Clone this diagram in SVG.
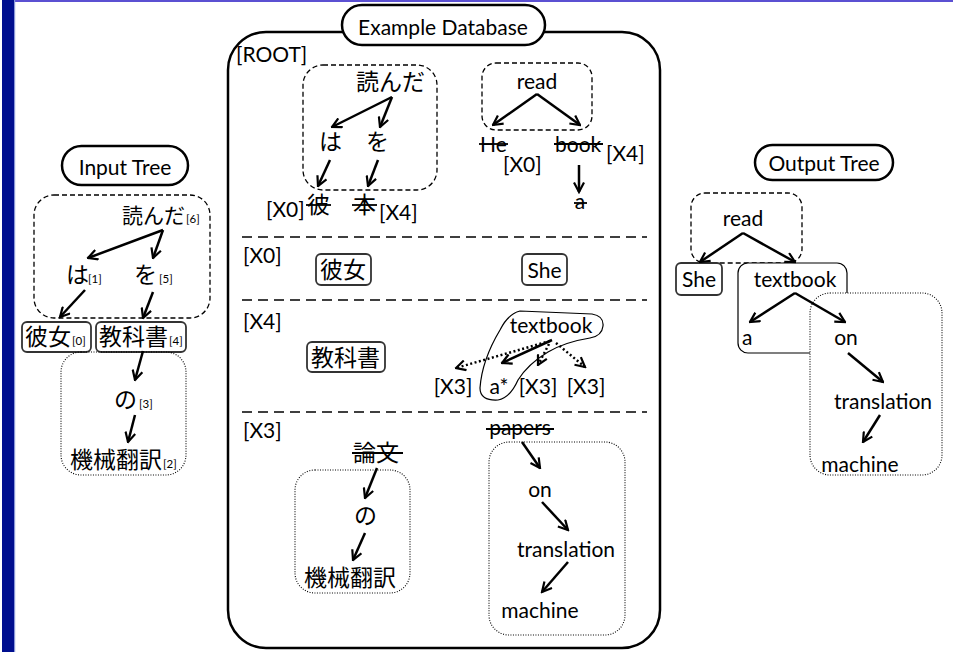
<svg xmlns="http://www.w3.org/2000/svg" width="953" height="652" viewBox="0 0 953 652">
  <style>
    .lat { font-family: Lato, "Liberation Sans", sans-serif; font-size: 21px; fill: #000; }
    .jp { font-family: "Noto Sans CJK JP", sans-serif; font-size: 23px; fill: #000; }
    .sub { font-family: Lato, "Liberation Sans", sans-serif; font-size: 11.5px; fill: #000; }
    .pill { fill: #fff; stroke: #000; stroke-width: 2.5; }
    .frame { fill: none; stroke: #000; stroke-width: 2.5; }
    .dash { fill: none; stroke: #000; stroke-width: 1.3; stroke-dasharray: 5 3; }
    .dot { fill: #fff; stroke: #000; stroke-width: 1.1; stroke-dasharray: 1 1.5; }
    .node { fill: #fff; stroke: #333; stroke-width: 1.8; }
    .thin { fill: none; stroke: #000; stroke-width: 1.2; }
    .sep { fill: none; stroke: #000; stroke-width: 1.5; stroke-dasharray: 10 6; }
    .strike { stroke: #000; stroke-width: 1.8; }
    .edge { fill: none; stroke: #000; stroke-width: 2.5; marker-end: url(#ah); }
    .edged { fill: none; stroke: #000; stroke-width: 2.5; stroke-dasharray: 2 2.5; marker-end: url(#ah); }
  </style>
  <defs>
    <marker id="ah" viewBox="0 0 12 12" refX="10.5" refY="6" markerWidth="12" markerHeight="12" orient="auto" markerUnits="userSpaceOnUse">
      <path d="M1,1 L10.5,6 L1,11" fill="none" stroke="#000" stroke-width="2.2"/>
    </marker>
  </defs>

  <!-- slide background and frame bars -->
  <rect x="0" y="0" width="953" height="652" fill="#fff"/>
  <rect x="8" y="0" width="945" height="2" fill="#5b50d2"/>
  <rect x="2" y="0" width="12" height="652" fill="#000f8f"/>
  <rect x="14" y="0" width="1.2" height="652" fill="#8896d8"/>

  <!-- ===== Input tree ===== -->
  <g id="input-title">
    <rect class="pill" x="62" y="146" width="126" height="39" rx="19.5"/>
    <text class="lat" x="125" y="175" text-anchor="middle">Input Tree</text>
  </g>
  <g id="input-frag-top">
    <rect class="dash" x="34" y="195" width="176" height="123" rx="20"/>
  </g>
  <g id="input-yonda">
    <text class="jp" x="122" y="223" style="font-size:21px">読んだ</text>
    <text class="sub" x="186" y="223">[6]</text>
  </g>
  <g id="input-ha">
    <text class="jp" x="66" y="283">は</text>
    <text class="sub" x="88" y="283">[1]</text>
  </g>
  <g id="input-wo">
    <text class="jp" x="134" y="283">を</text>
    <text class="sub" x="159" y="283">[5]</text>
  </g>
  <g id="input-kanojo">
    <rect class="node" x="22" y="322" width="69" height="30" rx="5"/>
    <text class="jp" x="25" y="345">彼女</text>
    <text class="sub" x="72" y="345">[0]</text>
  </g>
  <g id="input-kyoukasho">
    <rect class="node" x="96" y="322" width="90" height="30" rx="5"/>
    <text class="jp" x="99" y="345">教科書</text>
    <text class="sub" x="169" y="345">[4]</text>
  </g>
  <g id="input-frag-bottom">
    <rect class="dot" x="61" y="352" width="125" height="123" rx="20" style="fill:none"/>
  </g>
  <g id="input-no">
    <text class="jp" x="114" y="408">の</text>
    <text class="sub" x="139" y="408">[3]</text>
  </g>
  <g id="input-kikaihonyaku">
    <text class="jp" x="70" y="468">機械翻訳</text>
    <text class="sub" x="163" y="468">[2]</text>
  </g>

  <!-- ===== Example database ===== -->
  <g id="db-frame">
    <rect class="frame" x="228" y="32" width="432" height="616" rx="38"/>
  </g>
  <g id="db-title">
    <rect class="pill" x="342" y="5" width="203" height="40" rx="20"/>
    <text class="lat" x="443" y="35" text-anchor="middle">Example Database</text>
  </g>

  <!-- ROOT section -->
  <g id="db-root">
    <text class="lat" x="236" y="62">[ROOT]</text>
    <rect class="dash" x="303" y="65" width="134" height="125" rx="20"/>
    <text class="jp" x="356" y="90">読んだ</text>
    <text class="jp" x="319" y="150">は</text>
    <text class="jp" x="366" y="150">を</text>
    <text class="jp" x="307" y="213">彼</text>
    <line class="strike" x1="306" y1="205" x2="331" y2="205"/>
    <text class="jp" x="353" y="213">本</text>
    <line class="strike" x1="352" y1="205" x2="377" y2="205"/>
    <text class="lat" x="266" y="217">[X0]</text>
    <text class="lat" x="379" y="220">[X4]</text>

    <rect class="dash" x="482" y="63" width="110" height="67" rx="14"/>
    <text class="lat" x="537" y="89" text-anchor="middle">read</text>
    <text class="lat" x="480" y="152">He</text>
    <line class="strike" x1="479" y1="144" x2="508" y2="144"/>
    <text class="lat" x="503" y="172">[X0]</text>
    <text class="lat" x="555" y="152">book</text>
    <line class="strike" x1="554" y1="144" x2="603" y2="144"/>
    <text class="lat" x="606" y="161">[X4]</text>
    <text class="lat" x="580" y="209" text-anchor="middle">a</text>
    <line class="strike" x1="574" y1="203" x2="587" y2="203"/>
  </g>

  <!-- X0 section -->
  <g id="db-x0">
    <line class="sep" x1="242" y1="237" x2="647" y2="237"/>
    <text class="lat" x="243" y="263">[X0]</text>
    <rect class="node" x="316" y="254" width="55" height="31" rx="5"/>
    <text class="jp" x="320" y="278">彼女</text>
    <rect class="node" x="522" y="254" width="45" height="31" rx="5"/>
    <text class="lat" x="544.5" y="278" text-anchor="middle">She</text>
  </g>

  <!-- X4 section -->
  <g id="db-x4">
    <line class="sep" x1="242" y1="300" x2="647" y2="300"/>
    <text class="lat" x="243" y="329">[X4]</text>
    <rect class="node" x="307" y="342" width="78" height="30" rx="5"/>
    <text class="jp" x="311" y="366">教科書</text>
    <path class="thin" d="M520,311 L592,314 Q604,316 603,326 Q602,336 590,338 Q565,342 548,352 Q528,364 518,380 Q510,398 498,400 Q480,401 480,388 Q482,360 500,330 Q508,314 520,311 Z"/>
    <text class="lat" x="551" y="333" text-anchor="middle">textbook</text>
    <text class="lat" x="453" y="394" text-anchor="middle">[X3]</text>
    <text class="lat" x="499" y="394" text-anchor="middle">a*</text>
    <text class="lat" x="538" y="394" text-anchor="middle">[X3]</text>
    <text class="lat" x="586" y="394" text-anchor="middle">[X3]</text>
  </g>

  <!-- X3 section -->
  <g id="db-x3">
    <line class="sep" x1="242" y1="412" x2="647" y2="412"/>
    <text class="lat" x="243" y="438">[X3]</text>
    <rect class="dot" x="295" y="470" width="115" height="123" rx="20"/>
    <text class="jp" x="353" y="461">論文</text>
    <line class="strike" x1="352" y1="453" x2="403" y2="453"/>
    <text class="jp" x="354" y="524">の</text>
    <text class="jp" x="304" y="586">機械翻訳</text>

    <rect class="dot" x="489" y="442" width="136" height="193" rx="20"/>
    <text class="lat" x="520" y="435" text-anchor="middle">papers</text>
    <line class="strike" x1="486" y1="429" x2="554" y2="429"/>
    <text class="lat" x="540" y="497" text-anchor="middle">on</text>
    <text class="lat" x="566" y="557" text-anchor="middle">translation</text>
    <text class="lat" x="540" y="618" text-anchor="middle">machine</text>
  </g>

  <!-- ===== Output tree ===== -->
  <g id="output-title">
    <rect class="pill" x="755" y="145" width="138" height="35" rx="17.5"/>
    <text class="lat" x="824" y="171" text-anchor="middle">Output Tree</text>
  </g>
  <g id="output-read">
    <rect class="dash" x="691" y="193" width="111" height="70" rx="14"/>
    <text class="lat" x="743" y="226" text-anchor="middle">read</text>
  </g>
  <g id="output-she">
    <rect class="node" x="676" y="263" width="46" height="32" rx="5"/>
    <text class="lat" x="699" y="287" text-anchor="middle">She</text>
  </g>
  <g id="output-textbook">
    <rect class="thin" x="738" y="263" width="109" height="90" rx="10" style="fill:#fff"/>
    <text class="lat" x="795" y="287" text-anchor="middle">textbook</text>
    <text class="lat" x="742" y="345">a</text>
  </g>
  <g id="output-subtree">
    <rect class="dot" x="810" y="293" width="132" height="182" rx="20"/>
    <text class="lat" x="846" y="345" text-anchor="middle">on</text>
    <text class="lat" x="883" y="409" text-anchor="middle">translation</text>
    <text class="lat" x="860" y="472" text-anchor="middle">machine</text>
  </g>

  <!-- ===== connectors ===== -->
  <g id="connectors">
    <!-- input tree -->
    <line class="edge" x1="163" y1="230" x2="88" y2="258"/>
    <line class="edge" x1="163" y1="230" x2="153" y2="258"/>
    <line class="edge" x1="85" y1="290" x2="60" y2="317"/>
    <line class="edge" x1="153" y1="292" x2="143" y2="318"/>
    <line class="edge" x1="143" y1="351" x2="135" y2="380"/>
    <line class="edge" x1="135" y1="415" x2="128" y2="442"/>
    <!-- ROOT examples -->
    <line class="edge" x1="392" y1="97" x2="332" y2="127"/>
    <line class="edge" x1="392" y1="97" x2="380" y2="127"/>
    <line class="edge" x1="330" y1="160" x2="318" y2="186"/>
    <line class="edge" x1="378" y1="160" x2="368" y2="186"/>
    <line class="edge" x1="537" y1="94" x2="493" y2="125"/>
    <line class="edge" x1="537" y1="94" x2="580" y2="125"/>
    <line class="edge" x1="579" y1="165" x2="579" y2="192"/>
    <!-- X4 examples -->
    <line class="edged" x1="550" y1="341" x2="456" y2="368"/>
    <line class="edge" x1="552" y1="340" x2="502" y2="363"/>
    <line class="edged" x1="549" y1="344" x2="538" y2="365"/>
    <line class="edged" x1="556" y1="343" x2="585" y2="367"/>
    <!-- X3 examples -->
    <line class="edge" x1="377" y1="468" x2="365" y2="498"/>
    <line class="edge" x1="365" y1="533" x2="353" y2="560"/>
    <line class="edge" x1="522" y1="442" x2="540" y2="468"/>
    <line class="edge" x1="542" y1="502" x2="568" y2="530"/>
    <line class="edge" x1="568" y1="562" x2="542" y2="592"/>
    <!-- output tree -->
    <line class="edge" x1="743" y1="233" x2="700" y2="262"/>
    <line class="edge" x1="743" y1="233" x2="795" y2="262"/>
    <line class="edge" x1="795" y1="293" x2="750" y2="322"/>
    <line class="edge" x1="795" y1="293" x2="845" y2="322"/>
    <line class="edge" x1="848" y1="353" x2="883" y2="382"/>
    <line class="edge" x1="880" y1="415" x2="863" y2="442"/>
  </g>
</svg>
